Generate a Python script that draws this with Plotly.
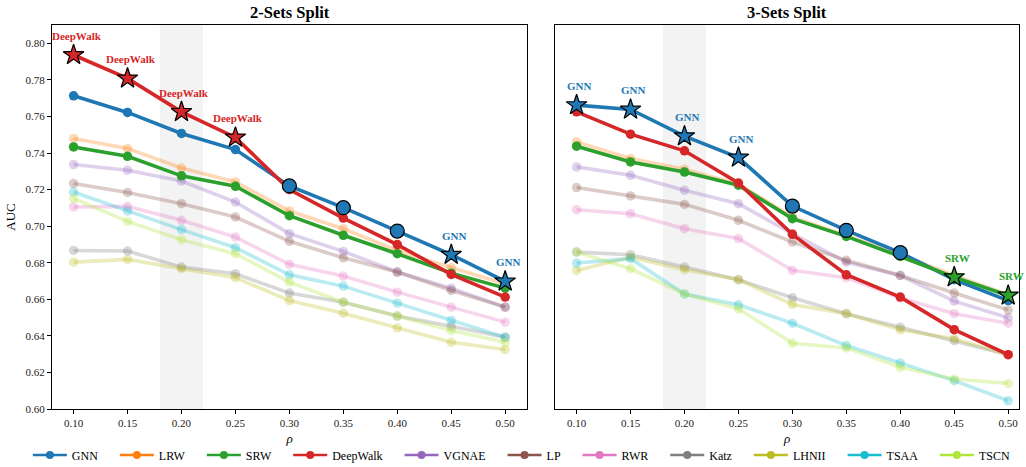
import plotly.graph_objects as go

# x positions (rho) shared by both splits
rho = [0.10, 0.15, 0.20, 0.25, 0.30, 0.35, 0.40, 0.45, 0.50]
rho_ticks = ["0.10", "0.15", "0.20", "0.25", "0.30", "0.35", "0.40", "0.45", "0.50"]

methods = ["GNN", "LRW", "SRW", "DeepWalk", "VGNAE", "LP", "RWR", "Katz", "LHNII", "TSAA", "TSCN"]
colors = {
    "GNN": "#1f77b4", "LRW": "#ff7f0e", "SRW": "#2ca02c", "DeepWalk": "#d62728",
    "VGNAE": "#9467bd", "LP": "#8c564b", "RWR": "#e377c2", "Katz": "#7f7f7f",
    "LHNII": "#bcbd22", "TSAA": "#17becf", "TSCN": "#b0e63a",
}
main_methods = ["GNN", "SRW", "DeepWalk"]

# AUC, 2-sets split
auc2_gnn      = [0.7713, 0.7622, 0.7507, 0.7419, 0.7220, 0.7101, 0.6973, 0.6844, 0.6698]
auc2_lrw      = [0.7479, 0.7425, 0.7318, 0.7242, 0.7083, 0.6986, 0.6867, 0.6773, 0.6685]
auc2_srw      = [0.7433, 0.7382, 0.7275, 0.7218, 0.7057, 0.6950, 0.6849, 0.6743, 0.6661]
auc2_deepwalk = [0.7936, 0.7808, 0.7625, 0.7485, 0.7200, 0.7044, 0.6899, 0.6736, 0.6612]
auc2_vgnae    = [0.7337, 0.7306, 0.7247, 0.7132, 0.6959, 0.6862, 0.6749, 0.6661, 0.6557]
auc2_lp       = [0.7233, 0.7184, 0.7123, 0.7050, 0.6917, 0.6827, 0.6749, 0.6648, 0.6557]
auc2_rwr      = [0.7105, 0.7108, 0.7032, 0.6940, 0.6791, 0.6727, 0.6639, 0.6557, 0.6475]
auc2_katz     = [0.6867, 0.6864, 0.6776, 0.6740, 0.6634, 0.6584, 0.6508, 0.6453, 0.6392]
auc2_lhnii    = [0.6803, 0.6818, 0.6767, 0.6718, 0.6593, 0.6524, 0.6444, 0.6365, 0.6325]
auc2_tsaa     = [0.7187, 0.7083, 0.6981, 0.6882, 0.6734, 0.6672, 0.6579, 0.6484, 0.6392]
auc2_tscn     = [0.7151, 0.7026, 0.6926, 0.6849, 0.6694, 0.6584, 0.6508, 0.6429, 0.6365]

# AUC, 3-sets split
auc3_gnn      = [0.7662, 0.7638, 0.7492, 0.7375, 0.7110, 0.6977, 0.6855, 0.6707, 0.6593]
auc3_lrw      = [0.7461, 0.7370, 0.7311, 0.7230, 0.7050, 0.6950, 0.6845, 0.6730, 0.6625]
auc3_srw      = [0.7437, 0.7351, 0.7296, 0.7224, 0.7041, 0.6944, 0.6834, 0.6721, 0.6621]
auc3_deepwalk = [0.7625, 0.7503, 0.7412, 0.7236, 0.6955, 0.6734, 0.6612, 0.6434, 0.6297]
auc3_vgnae    = [0.7324, 0.7278, 0.7196, 0.7123, 0.6959, 0.6803, 0.6730, 0.6590, 0.6499]
auc3_lp       = [0.7211, 0.7165, 0.7119, 0.7032, 0.6913, 0.6813, 0.6730, 0.6634, 0.6542]
auc3_rwr      = [0.7090, 0.7068, 0.6986, 0.6932, 0.6758, 0.6718, 0.6608, 0.6521, 0.6469]
auc3_katz     = [0.6858, 0.6844, 0.6776, 0.6707, 0.6608, 0.6521, 0.6447, 0.6374, 0.6297]
auc3_lhnii    = [0.6758, 0.6830, 0.6762, 0.6707, 0.6572, 0.6521, 0.6433, 0.6384, 0.6297]
auc3_tsaa     = [0.6798, 0.6822, 0.6629, 0.6570, 0.6469, 0.6347, 0.6252, 0.6155, 0.6045]
auc3_tscn     = [0.6858, 0.6767, 0.6629, 0.6548, 0.6359, 0.6334, 0.6228, 0.6164, 0.6140]

# best method at each rho, and how it is marked (star = labelled winner)
best2 = ["DeepWalk"] * 4 + ["GNN"] * 5
best3 = ["GNN"] * 7 + ["SRW"] * 2
mark2 = ["star"] * 4 + ["circle"] * 3 + ["star"] * 2
mark3 = ["star"] * 4 + ["circle"] * 3 + ["star"] * 2

panel_titles = ["2-Sets Split", "3-Sets Split"]

data2 = dict(zip(methods, [auc2_gnn, auc2_lrw, auc2_srw, auc2_deepwalk, auc2_vgnae, auc2_lp,
                           auc2_rwr, auc2_katz, auc2_lhnii, auc2_tsaa, auc2_tscn]))
data3 = dict(zip(methods, [auc3_gnn, auc3_lrw, auc3_srw, auc3_deepwalk, auc3_vgnae, auc3_lp,
                           auc3_rwr, auc3_katz, auc3_lhnii, auc3_tsaa, auc3_tscn]))

SERIF = "Liberation Serif"
W, H = 1026, 467
NBSP = "\u00a0"


def rgba(hex_color, a):
    h = hex_color.lstrip("#")
    r, g, b = int(h[0:2], 16), int(h[2:4], 16), int(h[4:6], 16)
    return f"rgba({r},{g},{b},{a})"


fig = go.Figure()

panels = [(data2, best2, mark2, "x", "y"), (data3, best3, mark3, "x2", "y2")]
for data, best, mark, xa, ya in panels:
    # faded baselines first, then the highlighted methods on top
    order = [m for m in methods if m not in main_methods] + main_methods
    for m in order:
        faded = m not in main_methods
        col = rgba(colors[m], 0.3) if faded else colors[m]
        fig.add_trace(go.Scatter(
            x=rho, y=data[m], mode="lines+markers", xaxis=xa, yaxis=ya,
            line=dict(color=col, width=3.6), marker=dict(color=col, size=9.5),
            showlegend=False, hoverinfo="skip",
        ))
    # winner markers
    for kind, sym, size in (("circle", "circle", 14), ("star", "star", 15.5)):
        idx = [i for i, k in enumerate(mark) if k == kind]
        fig.add_trace(go.Scatter(
            x=[rho[i] for i in idx], y=[data[best[i]][i] for i in idx],
            mode="markers", xaxis=xa, yaxis=ya,
            marker=dict(symbol=sym, size=size, color=[colors[best[i]] for i in idx],
                        line=dict(color="black", width=1.2)),
            showlegend=False, hoverinfo="skip",
        ))
    for i, k in enumerate(mark):
        if k == "star":
            fig.add_annotation(
                x=rho[i], y=data[best[i]][i], xref=xa, yref=ya, text=f"<b>{best[i]}</b>",
                showarrow=False, yshift=19, xshift=3,
                font=dict(family=SERIF, size=11, color=colors[best[i]]),
            )

# legend entries (opaque)
for m in methods:
    fig.add_trace(go.Scatter(
        x=[None], y=[None], mode="lines+markers", name=m + NBSP * 4,
        line=dict(color=colors[m], width=2.5), marker=dict(color=colors[m], size=8),
    ))

# panel geometry in pixels
left_px = (52, 527)
right_px = (555, 1019)
top_px, bot_px = 25, 409
x_unit = 1079.0  # pixels per unit rho
x0 = 0.08
x_rng_l = [x0, x0 + (left_px[1] - left_px[0]) / x_unit]
x_rng_r = [x0, x0 + (right_px[1] - right_px[0]) / x_unit]

axis_common = dict(showline=True, linecolor="black", linewidth=1, mirror=True,
                   showgrid=False, zeroline=False, ticks="outside", ticklen=4,
                   tickcolor="black", tickfont=dict(family=SERIF, size=11, color="#222"))

fig.update_layout(
    width=W, height=H, margin=dict(l=0, r=0, t=0, b=0, autoexpand=False),
    paper_bgcolor="white", plot_bgcolor="white",
    font=dict(family=SERIF, color="black"),
    xaxis=dict(domain=[left_px[0] / W, left_px[1] / W], range=x_rng_l, anchor="y",
               tickvals=rho, ticktext=rho_ticks,
               title=dict(text="<i>ρ</i>", font=dict(family=SERIF, size=13), standoff=5),
               **axis_common),
    yaxis=dict(domain=[1 - bot_px / H, 1 - top_px / H], range=[0.60, 0.81], anchor="x",
               tickvals=[0.60 + 0.02 * k for k in range(11)], tickformat=".2f",
               title=dict(text="AUC", font=dict(family=SERIF, size=13), standoff=6),
               **axis_common),
    xaxis2=dict(domain=[right_px[0] / W, right_px[1] / W], range=x_rng_r, anchor="y2",
                tickvals=rho, ticktext=rho_ticks,
                title=dict(text="<i>ρ</i>", font=dict(family=SERIF, size=13), standoff=5),
                **axis_common),
    yaxis2=dict(domain=[1 - bot_px / H, 1 - top_px / H], range=[0.60, 0.81], anchor="x2",
                showline=True, linecolor="black", linewidth=1, mirror=True,
                showgrid=False, zeroline=False, ticks="", showticklabels=False),
    legend=dict(orientation="h", x=0.514, xanchor="center", y=1 - 455 / H, yanchor="middle",
                font=dict(family=SERIF, size=12), itemwidth=34, bgcolor="rgba(0,0,0,0)"),
)

# shaded band around rho = 0.20
for xa in ("x", "x2"):
    fig.add_shape(type="rect", xref=xa, yref="paper", x0=0.18, x1=0.22,
                  y0=1 - bot_px / H, y1=1 - top_px / H, fillcolor="#f3f3f3",
                  line=dict(width=0), layer="below")

# panel titles
for t, (a, b) in zip(panel_titles, (left_px, right_px)):
    fig.add_annotation(x=(a + b) / 2 / W, y=1 - 13 / H, xref="paper", yref="paper",
                       xanchor="center", yanchor="middle",
                       text=f"<b>{t}</b>", showarrow=False,
                       font=dict(family=SERIF, size=16.5, color="black"))

fig.write_html("out.html")
